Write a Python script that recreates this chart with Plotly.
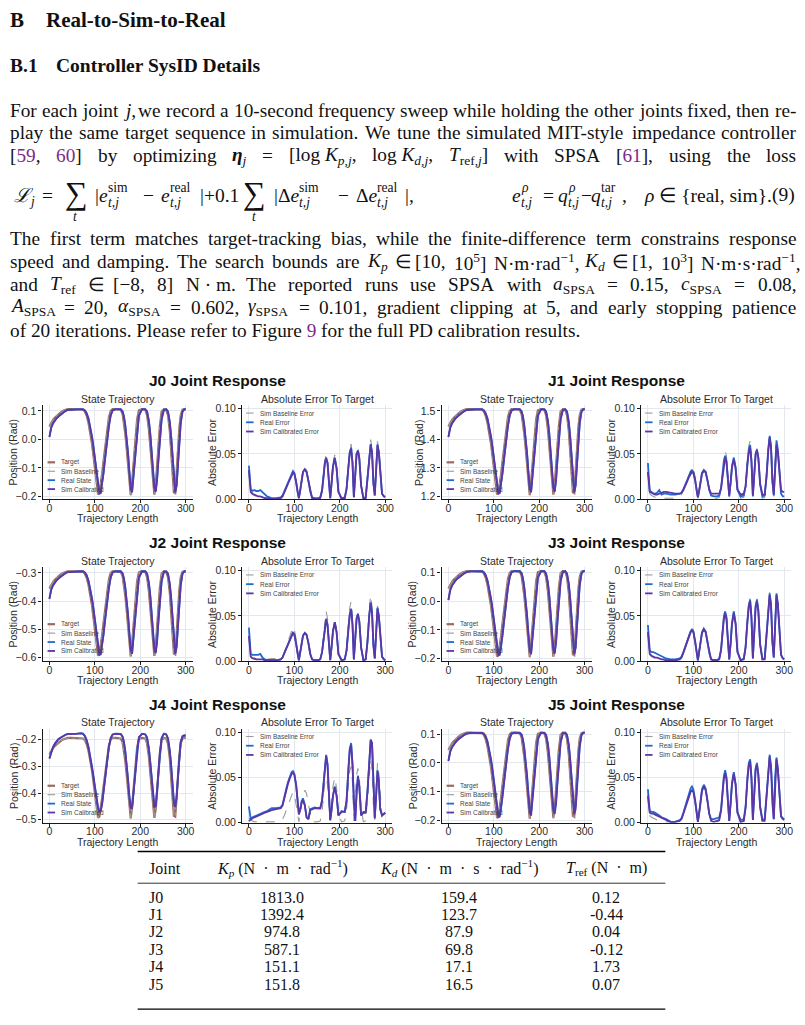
import re
import plotly.graph_objects as go

W, H = 805, 1025
SERIF = "Liberation Serif"
SANS = "Liberation Sans"
LINK = "#7E2A86"

# ---------------- data ----------------
t_steps = [0, 4, 8, 12, 16, 20, 25, 30, 35, 40, 50, 60, 70,
           74, 78, 82, 86, 90, 94, 97, 100, 104, 107, 110, 113, 116, 119, 123, 127, 131, 135, 139,
           145, 152, 157, 161, 164, 167, 170, 173, 176, 179, 182, 185, 189, 193, 197,
           204, 211, 215, 219, 222, 225, 228, 231, 234, 237, 240, 243, 247,
           252, 257, 261, 265, 268, 271, 274, 277, 280, 283, 286, 289, 293, 297, 300]

j0_target = [0.045,0.058,0.068,0.076,0.083,0.089,0.095,0.100,0.104,0.106,0.106,0.105,0.106,
 0.104,0.098,0.083,0.058,0.025,-0.018,-0.058,-0.100,-0.160,-0.192,-0.188,-0.160,-0.120,-0.078,-0.020,0.035,0.078,0.100,0.106,
 0.106,0.106,0.104,0.090,0.062,0.020,-0.030,-0.090,-0.155,-0.195,-0.150,-0.085,0.000,0.070,0.102,
 0.106,0.104,0.085,0.035,-0.020,-0.085,-0.150,-0.193,-0.160,-0.090,-0.020,0.045,0.098,
 0.106,0.104,0.085,0.030,-0.030,-0.115,-0.185,-0.188,-0.115,-0.030,0.040,0.085,0.104,0.106,0.106]
j0_baseline = list(j0_target)
j0_real = [0.010,0.042,0.057,0.067,0.075,0.081,0.088,0.094,0.099,0.103,0.105,0.105,0.106,
 0.106,0.102,0.092,0.073,0.045,0.008,-0.025,-0.062,-0.118,-0.160,-0.186,-0.185,-0.158,-0.118,-0.060,-0.002,0.048,0.085,0.102,
 0.106,0.106,0.106,0.099,0.082,0.050,0.008,-0.045,-0.110,-0.168,-0.182,-0.130,-0.050,0.030,0.085,
 0.106,0.106,0.098,0.066,0.022,-0.038,-0.105,-0.165,-0.180,-0.140,-0.070,0.005,0.072,
 0.104,0.106,0.098,0.062,0.012,-0.060,-0.140,-0.182,-0.160,-0.085,-0.005,0.058,0.098,0.106,0.106]
j0_calibrated = [0.008,0.040,0.056,0.066,0.074,0.080,0.087,0.094,0.099,0.103,0.105,0.105,0.105,
 0.105,0.101,0.091,0.072,0.044,0.006,-0.028,-0.066,-0.122,-0.165,-0.190,-0.188,-0.160,-0.120,-0.062,-0.004,0.046,0.084,0.101,
 0.105,0.105,0.105,0.098,0.080,0.048,0.005,-0.048,-0.114,-0.172,-0.186,-0.134,-0.053,0.027,0.083,
 0.105,0.105,0.097,0.064,0.019,-0.042,-0.110,-0.170,-0.184,-0.143,-0.072,0.002,0.070,
 0.103,0.105,0.097,0.060,0.009,-0.064,-0.145,-0.186,-0.163,-0.088,-0.008,0.055,0.097,0.105,0.105]

j1_target = [1.445,1.458,1.468,1.476,1.483,1.489,1.495,1.500,1.504,1.506,1.506,1.505,1.506,
 1.504,1.498,1.483,1.458,1.425,1.382,1.342,1.300,1.240,1.208,1.212,1.240,1.280,1.322,1.380,1.435,1.478,1.500,1.506,
 1.506,1.506,1.504,1.490,1.462,1.420,1.370,1.310,1.245,1.205,1.250,1.315,1.400,1.470,1.502,
 1.506,1.504,1.485,1.435,1.380,1.315,1.250,1.207,1.240,1.310,1.380,1.445,1.498,
 1.506,1.504,1.485,1.430,1.370,1.285,1.215,1.212,1.285,1.370,1.440,1.485,1.504,1.506,1.506]
j1_baseline = list(j1_target)
j1_real = [1.410,1.442,1.457,1.467,1.475,1.481,1.488,1.494,1.499,1.503,1.505,1.505,1.506,
 1.506,1.502,1.492,1.473,1.445,1.408,1.375,1.338,1.282,1.240,1.214,1.215,1.242,1.282,1.340,1.398,1.448,1.485,1.502,
 1.506,1.506,1.506,1.499,1.482,1.450,1.408,1.355,1.290,1.232,1.218,1.270,1.350,1.430,1.485,
 1.506,1.506,1.498,1.466,1.422,1.362,1.295,1.235,1.220,1.260,1.330,1.405,1.472,
 1.504,1.506,1.498,1.462,1.412,1.340,1.260,1.218,1.240,1.315,1.395,1.458,1.498,1.506,1.506]
j1_calibrated = [1.408,1.440,1.456,1.466,1.474,1.480,1.487,1.494,1.499,1.503,1.505,1.505,1.505,
 1.505,1.501,1.491,1.472,1.444,1.406,1.372,1.334,1.278,1.235,1.210,1.212,1.240,1.280,1.338,1.396,1.446,1.484,1.501,
 1.505,1.505,1.505,1.498,1.480,1.448,1.405,1.352,1.286,1.228,1.214,1.266,1.347,1.427,1.483,
 1.505,1.505,1.497,1.464,1.419,1.358,1.290,1.230,1.216,1.257,1.328,1.402,1.470,
 1.503,1.505,1.497,1.460,1.409,1.336,1.255,1.214,1.237,1.312,1.392,1.455,1.497,1.505,1.505]

j2_target = [-0.355,-0.342,-0.332,-0.324,-0.317,-0.311,-0.305,-0.300,-0.296,-0.294,-0.294,-0.295,-0.294,
 -0.296,-0.302,-0.317,-0.342,-0.375,-0.418,-0.458,-0.500,-0.560,-0.592,-0.588,-0.560,-0.520,-0.478,-0.420,-0.365,-0.322,-0.300,-0.294,
 -0.294,-0.294,-0.296,-0.310,-0.338,-0.380,-0.430,-0.490,-0.555,-0.595,-0.550,-0.485,-0.400,-0.330,-0.298,
 -0.294,-0.296,-0.315,-0.365,-0.420,-0.485,-0.550,-0.593,-0.560,-0.490,-0.420,-0.355,-0.302,
 -0.294,-0.296,-0.315,-0.370,-0.430,-0.515,-0.585,-0.588,-0.515,-0.430,-0.360,-0.315,-0.296,-0.294,-0.294]
j2_baseline = list(j2_target)
j2_real = [-0.390,-0.358,-0.343,-0.333,-0.325,-0.319,-0.312,-0.306,-0.301,-0.297,-0.295,-0.295,-0.294,
 -0.294,-0.298,-0.308,-0.327,-0.355,-0.392,-0.425,-0.462,-0.518,-0.560,-0.586,-0.585,-0.558,-0.518,-0.460,-0.402,-0.352,-0.315,-0.298,
 -0.294,-0.294,-0.294,-0.301,-0.318,-0.350,-0.392,-0.445,-0.510,-0.568,-0.582,-0.530,-0.450,-0.370,-0.315,
 -0.294,-0.294,-0.302,-0.334,-0.378,-0.438,-0.505,-0.565,-0.580,-0.540,-0.470,-0.395,-0.328,
 -0.296,-0.294,-0.302,-0.338,-0.388,-0.460,-0.540,-0.582,-0.560,-0.485,-0.405,-0.342,-0.302,-0.294,-0.294]
j2_calibrated = [-0.392,-0.360,-0.344,-0.334,-0.326,-0.320,-0.313,-0.306,-0.301,-0.297,-0.295,-0.295,-0.295,
 -0.295,-0.299,-0.309,-0.328,-0.356,-0.394,-0.428,-0.466,-0.522,-0.565,-0.590,-0.588,-0.560,-0.520,-0.462,-0.404,-0.354,-0.316,-0.299,
 -0.295,-0.295,-0.295,-0.302,-0.320,-0.352,-0.395,-0.448,-0.514,-0.572,-0.586,-0.534,-0.453,-0.373,-0.317,
 -0.295,-0.295,-0.303,-0.336,-0.381,-0.442,-0.510,-0.570,-0.584,-0.543,-0.472,-0.398,-0.330,
 -0.297,-0.295,-0.303,-0.340,-0.391,-0.464,-0.545,-0.586,-0.563,-0.488,-0.408,-0.345,-0.303,-0.295,-0.295]

j3_target = [0.045,0.058,0.068,0.076,0.083,0.089,0.095,0.100,0.104,0.106,0.106,0.105,0.106,
 0.104,0.098,0.083,0.058,0.025,-0.018,-0.058,-0.100,-0.160,-0.192,-0.188,-0.160,-0.120,-0.078,-0.020,0.035,0.078,0.100,0.106,
 0.106,0.106,0.104,0.090,0.062,0.020,-0.030,-0.090,-0.155,-0.195,-0.150,-0.085,0.000,0.070,0.102,
 0.106,0.104,0.085,0.035,-0.020,-0.085,-0.150,-0.193,-0.160,-0.090,-0.020,0.045,0.098,
 0.106,0.104,0.085,0.030,-0.030,-0.115,-0.185,-0.188,-0.115,-0.030,0.040,0.085,0.104,0.106,0.106]
j3_baseline = list(j3_target)
j3_real = [0.005,0.040,0.056,0.066,0.074,0.080,0.087,0.093,0.098,0.102,0.105,0.105,0.106,
 0.106,0.102,0.092,0.073,0.045,0.008,-0.025,-0.062,-0.118,-0.160,-0.184,-0.183,-0.158,-0.118,-0.060,-0.002,0.048,0.085,0.102,
 0.106,0.106,0.106,0.099,0.082,0.050,0.008,-0.045,-0.110,-0.166,-0.180,-0.130,-0.050,0.030,0.085,
 0.106,0.106,0.098,0.066,0.022,-0.038,-0.105,-0.163,-0.178,-0.140,-0.070,0.005,0.072,
 0.104,0.106,0.098,0.062,0.012,-0.060,-0.140,-0.180,-0.160,-0.085,-0.005,0.058,0.098,0.106,0.106]
j3_calibrated = [0.004,0.039,0.055,0.065,0.073,0.080,0.087,0.093,0.098,0.102,0.105,0.105,0.105,
 0.105,0.101,0.091,0.072,0.044,0.006,-0.028,-0.066,-0.122,-0.165,-0.189,-0.187,-0.160,-0.120,-0.062,-0.004,0.046,0.084,0.101,
 0.105,0.105,0.105,0.098,0.080,0.048,0.005,-0.048,-0.114,-0.171,-0.185,-0.134,-0.053,0.027,0.083,
 0.105,0.105,0.097,0.064,0.019,-0.042,-0.110,-0.169,-0.183,-0.143,-0.072,0.002,0.070,
 0.103,0.105,0.097,0.060,0.009,-0.064,-0.145,-0.185,-0.163,-0.088,-0.008,0.055,0.097,0.105,0.105]

j4_target = [-0.255,-0.242,-0.232,-0.224,-0.217,-0.211,-0.205,-0.200,-0.196,-0.194,-0.194,-0.195,-0.194,
 -0.196,-0.202,-0.217,-0.242,-0.275,-0.318,-0.358,-0.400,-0.460,-0.492,-0.488,-0.460,-0.420,-0.378,-0.320,-0.265,-0.222,-0.200,-0.194,
 -0.194,-0.194,-0.196,-0.210,-0.238,-0.280,-0.330,-0.390,-0.455,-0.495,-0.450,-0.385,-0.300,-0.230,-0.198,
 -0.194,-0.196,-0.215,-0.265,-0.320,-0.385,-0.450,-0.493,-0.460,-0.390,-0.320,-0.255,-0.202,
 -0.194,-0.196,-0.215,-0.270,-0.330,-0.415,-0.485,-0.488,-0.415,-0.330,-0.260,-0.215,-0.196,-0.194,-0.194]
j4_baseline = list(j4_target)
j4_real = [-0.272,-0.245,-0.228,-0.215,-0.205,-0.198,-0.192,-0.186,-0.182,-0.179,-0.179,-0.178,-0.176,
 -0.178,-0.186,-0.202,-0.228,-0.262,-0.302,-0.338,-0.375,-0.420,-0.452,-0.468,-0.465,-0.440,-0.400,-0.338,-0.278,-0.228,-0.195,-0.182,
 -0.178,-0.178,-0.179,-0.188,-0.208,-0.242,-0.288,-0.345,-0.410,-0.452,-0.455,-0.405,-0.322,-0.240,-0.192,
 -0.178,-0.180,-0.192,-0.232,-0.282,-0.345,-0.408,-0.448,-0.448,-0.400,-0.325,-0.252,-0.195,
 -0.178,-0.180,-0.195,-0.240,-0.295,-0.365,-0.430,-0.450,-0.415,-0.340,-0.260,-0.210,-0.188,-0.185,-0.186]
j4_calibrated = [-0.270,-0.244,-0.228,-0.216,-0.206,-0.199,-0.193,-0.187,-0.183,-0.180,-0.180,-0.179,-0.177,
 -0.179,-0.187,-0.203,-0.229,-0.264,-0.304,-0.340,-0.378,-0.424,-0.456,-0.471,-0.467,-0.441,-0.400,-0.337,-0.276,-0.226,-0.194,-0.181,
 -0.179,-0.179,-0.180,-0.189,-0.210,-0.245,-0.292,-0.350,-0.415,-0.456,-0.457,-0.405,-0.320,-0.238,-0.191,
 -0.179,-0.181,-0.194,-0.235,-0.286,-0.350,-0.413,-0.452,-0.450,-0.400,-0.323,-0.250,-0.194,
 -0.179,-0.181,-0.197,-0.243,-0.299,-0.370,-0.435,-0.453,-0.416,-0.339,-0.258,-0.208,-0.187,-0.184,-0.185]

j5_target = [0.045,0.058,0.068,0.076,0.083,0.089,0.095,0.100,0.104,0.106,0.106,0.105,0.106,
 0.104,0.098,0.083,0.058,0.025,-0.018,-0.058,-0.100,-0.160,-0.192,-0.188,-0.160,-0.120,-0.078,-0.020,0.035,0.078,0.100,0.106,
 0.106,0.106,0.104,0.090,0.062,0.020,-0.030,-0.090,-0.155,-0.195,-0.150,-0.085,0.000,0.070,0.102,
 0.106,0.104,0.085,0.035,-0.020,-0.085,-0.150,-0.193,-0.160,-0.090,-0.020,0.045,0.098,
 0.106,0.104,0.085,0.030,-0.030,-0.115,-0.185,-0.188,-0.115,-0.030,0.040,0.085,0.104,0.106,0.106]
j5_baseline = list(j5_target)
j5_real = [0.008,0.040,0.055,0.065,0.073,0.080,0.087,0.093,0.098,0.102,0.105,0.105,0.106,
 0.106,0.103,0.094,0.076,0.049,0.012,-0.020,-0.058,-0.112,-0.155,-0.184,-0.183,-0.156,-0.114,-0.055,0.003,0.052,0.088,0.103,
 0.106,0.106,0.106,0.100,0.084,0.054,0.012,-0.040,-0.104,-0.160,-0.175,-0.125,-0.045,0.035,0.088,
 0.106,0.106,0.099,0.068,0.026,-0.033,-0.099,-0.155,-0.168,-0.130,-0.062,0.010,0.076,
 0.104,0.106,0.099,0.065,0.016,-0.055,-0.132,-0.168,-0.150,-0.078,0.000,0.062,0.099,0.106,0.106]
j5_calibrated = [0.006,0.039,0.055,0.065,0.073,0.080,0.087,0.093,0.098,0.102,0.105,0.105,0.105,
 0.105,0.101,0.091,0.072,0.044,0.006,-0.028,-0.066,-0.122,-0.165,-0.190,-0.188,-0.160,-0.120,-0.062,-0.004,0.046,0.084,0.101,
 0.105,0.105,0.105,0.098,0.080,0.048,0.005,-0.048,-0.114,-0.172,-0.184,-0.134,-0.053,0.027,0.083,
 0.105,0.105,0.097,0.064,0.019,-0.042,-0.110,-0.168,-0.178,-0.143,-0.072,0.002,0.070,
 0.103,0.105,0.097,0.060,0.009,-0.064,-0.145,-0.178,-0.163,-0.088,-0.008,0.055,0.097,0.105,0.105]

j0_err_baseline = [0.030,0.007,0.005,0.004,0.003,0.003,0.002,0.002,0.001,0.001,0.000,0.000,0.001,
 0.003,0.007,0.012,0.018,0.023,0.028,0.031,0.030,0.021,0.010,0.001,0.011,0.024,0.032,0.035,0.032,0.021,0.009,0.001,
 0.000,0.000,0.001,0.010,0.025,0.042,0.049,0.043,0.022,0.001,0.020,0.039,0.049,0.036,0.009,
 0.000,0.001,0.012,0.038,0.055,0.061,0.043,0.002,0.030,0.053,0.057,0.048,0.016,
 0.001,0.001,0.023,0.053,0.066,0.056,0.020,0.004,0.043,0.064,0.055,0.032,0.007,0.003,0.002]
j0_err_real = [0.037,0.011,0.009,0.010,0.009,0.009,0.010,0.008,0.005,0.003,0.001,0.001,0.002,
 0.004,0.009,0.014,0.019,0.024,0.029,0.031,0.029,0.019,0.008,0.001,0.010,0.022,0.030,0.033,0.030,0.020,0.008,0.002,
 0.001,0.001,0.002,0.010,0.024,0.040,0.046,0.040,0.020,0.001,0.018,0.036,0.046,0.034,0.008,
 0.001,0.002,0.012,0.036,0.052,0.057,0.040,0.002,0.028,0.050,0.054,0.045,0.015,
 0.001,0.002,0.022,0.050,0.061,0.052,0.018,0.004,0.040,0.060,0.052,0.030,0.006,0.003,0.002]
j0_err_calibrated = [0.032,0.008,0.006,0.005,0.004,0.003,0.003,0.002,0.001,0.001,0.000,0.000,0.001,
 0.003,0.007,0.012,0.017,0.022,0.027,0.029,0.028,0.019,0.008,0.001,0.010,0.022,0.030,0.033,0.030,0.020,0.008,0.001,
 0.000,0.000,0.001,0.009,0.023,0.039,0.045,0.040,0.020,0.001,0.018,0.036,0.045,0.034,0.008,
 0.000,0.001,0.011,0.035,0.051,0.056,0.040,0.002,0.028,0.050,0.053,0.045,0.015,
 0.001,0.001,0.021,0.049,0.060,0.052,0.018,0.004,0.040,0.060,0.052,0.030,0.006,0.003,0.003]

j1_err_baseline = [0.028,0.006,0.004,0.003,0.002,0.002,0.002,0.001,0.001,0.001,0.001,0.001,0.002,
 0.005,0.010,0.016,0.022,0.028,0.034,0.036,0.034,0.024,0.012,0.001,0.011,0.023,0.030,0.033,0.031,0.021,0.009,0.002,
 0.001,0.001,0.002,0.012,0.028,0.046,0.054,0.047,0.024,0.002,0.019,0.038,0.047,0.036,0.010,
 0.001,0.002,0.015,0.042,0.059,0.064,0.045,0.002,0.029,0.051,0.056,0.047,0.016,
 0.001,0.002,0.026,0.058,0.073,0.060,0.021,0.003,0.042,0.062,0.053,0.030,0.006,0.003,0.003]
j1_err_real = [0.040,0.009,0.008,0.006,0.006,0.007,0.010,0.005,0.006,0.006,0.005,0.005,0.006,
 0.007,0.011,0.016,0.021,0.026,0.030,0.032,0.030,0.021,0.010,0.002,0.010,0.022,0.029,0.032,0.030,0.021,0.010,0.004,
 0.003,0.003,0.004,0.012,0.026,0.042,0.048,0.042,0.022,0.003,0.018,0.036,0.046,0.035,0.010,
 0.003,0.004,0.014,0.040,0.055,0.060,0.042,0.003,0.028,0.050,0.055,0.046,0.016,
 0.003,0.004,0.025,0.056,0.070,0.058,0.020,0.004,0.045,0.065,0.055,0.030,0.006,0.003,0.003]
j1_err_calibrated = [0.030,0.008,0.007,0.006,0.005,0.005,0.006,0.007,0.008,0.008,0.007,0.006,0.006,
 0.007,0.010,0.014,0.019,0.024,0.028,0.030,0.029,0.021,0.010,0.002,0.010,0.021,0.028,0.031,0.030,0.021,0.011,0.006,
 0.006,0.006,0.006,0.012,0.025,0.040,0.046,0.041,0.022,0.004,0.018,0.035,0.044,0.034,0.011,
 0.005,0.006,0.014,0.038,0.052,0.057,0.041,0.004,0.028,0.049,0.054,0.046,0.017,
 0.005,0.005,0.024,0.054,0.068,0.056,0.020,0.005,0.042,0.060,0.052,0.030,0.010,0.008,0.008]

j2_err_baseline = [0.026,0.005,0.003,0.002,0.002,0.002,0.002,0.002,0.002,0.002,0.003,0.003,0.002,
 0.004,0.010,0.016,0.022,0.029,0.035,0.038,0.035,0.024,0.011,0.001,0.011,0.022,0.029,0.032,0.030,0.021,0.009,0.002,
 0.001,0.001,0.002,0.012,0.028,0.046,0.055,0.047,0.023,0.001,0.017,0.034,0.044,0.033,0.008,
 0.001,0.002,0.014,0.041,0.059,0.066,0.046,0.002,0.027,0.048,0.053,0.045,0.015,
 0.001,0.002,0.025,0.058,0.073,0.060,0.020,0.003,0.041,0.061,0.052,0.029,0.005,0.002,0.001]
j2_err_real = [0.037,0.008,0.007,0.007,0.007,0.007,0.008,0.004,0.002,0.001,0.001,0.001,0.002,
 0.004,0.009,0.014,0.020,0.025,0.030,0.032,0.030,0.020,0.009,0.001,0.010,0.021,0.028,0.031,0.029,0.020,0.008,0.002,
 0.001,0.001,0.002,0.010,0.024,0.040,0.047,0.041,0.020,0.001,0.016,0.033,0.043,0.032,0.008,
 0.001,0.002,0.012,0.036,0.052,0.058,0.041,0.002,0.026,0.047,0.052,0.044,0.015,
 0.001,0.002,0.022,0.052,0.065,0.054,0.018,0.003,0.040,0.059,0.050,0.028,0.005,0.002,0.001]
j2_err_calibrated = [0.028,0.005,0.003,0.003,0.002,0.002,0.002,0.002,0.001,0.001,0.001,0.001,0.002,
 0.004,0.009,0.014,0.019,0.024,0.029,0.031,0.029,0.020,0.009,0.001,0.010,0.021,0.028,0.031,0.029,0.020,0.008,0.002,
 0.001,0.001,0.002,0.010,0.024,0.039,0.046,0.040,0.020,0.001,0.016,0.033,0.043,0.032,0.008,
 0.001,0.002,0.012,0.035,0.051,0.057,0.040,0.002,0.026,0.047,0.052,0.044,0.015,
 0.001,0.002,0.021,0.051,0.064,0.053,0.018,0.003,0.040,0.058,0.050,0.028,0.005,0.002,0.001]

j3_err_baseline = [0.030,0.007,0.005,0.004,0.003,0.003,0.002,0.002,0.001,0.001,0.001,0.001,0.002,
 0.004,0.010,0.016,0.023,0.030,0.035,0.038,0.035,0.023,0.010,0.001,0.011,0.024,0.032,0.036,0.033,0.022,0.009,0.002,
 0.001,0.001,0.002,0.013,0.031,0.050,0.058,0.050,0.025,0.002,0.020,0.042,0.055,0.042,0.011,
 0.001,0.002,0.016,0.045,0.063,0.070,0.049,0.003,0.034,0.061,0.069,0.057,0.019,
 0.002,0.002,0.028,0.062,0.076,0.063,0.022,0.004,0.050,0.075,0.064,0.036,0.007,0.003,0.002]
j3_err_real = [0.040,0.012,0.010,0.010,0.009,0.008,0.007,0.005,0.004,0.003,0.002,0.002,0.003,
 0.005,0.010,0.016,0.022,0.028,0.033,0.035,0.033,0.022,0.010,0.001,0.011,0.024,0.032,0.036,0.033,0.022,0.009,0.002,
 0.001,0.001,0.003,0.013,0.030,0.048,0.055,0.048,0.024,0.002,0.020,0.042,0.055,0.042,0.011,
 0.001,0.003,0.016,0.045,0.062,0.068,0.048,0.003,0.034,0.061,0.068,0.057,0.019,
 0.002,0.003,0.028,0.062,0.075,0.063,0.022,0.004,0.050,0.075,0.064,0.036,0.007,0.003,0.002]
j3_err_calibrated = [0.032,0.008,0.006,0.005,0.004,0.004,0.003,0.002,0.002,0.001,0.001,0.001,0.002,
 0.004,0.009,0.015,0.021,0.027,0.032,0.034,0.032,0.021,0.010,0.001,0.011,0.023,0.031,0.035,0.032,0.021,0.009,0.002,
 0.001,0.001,0.002,0.012,0.029,0.046,0.053,0.046,0.023,0.002,0.019,0.041,0.053,0.041,0.010,
 0.001,0.002,0.015,0.043,0.060,0.066,0.047,0.003,0.033,0.059,0.066,0.055,0.018,
 0.002,0.002,0.027,0.060,0.073,0.061,0.021,0.004,0.048,0.073,0.062,0.035,0.007,0.003,0.002]

j4_err_baseline = [0.005,0.003,0.002,0.001,0.001,0.001,0.001,0.001,0.001,0.001,0.001,0.001,0.002,
 0.004,0.008,0.013,0.018,0.024,0.030,0.034,0.031,0.020,0.009,0.001,0.010,0.021,0.030,0.036,0.032,0.020,0.008,0.001,
 0.001,0.001,0.002,0.012,0.028,0.044,0.050,0.043,0.022,0.002,0.020,0.040,0.050,0.038,0.010,
 0.001,0.002,0.015,0.042,0.058,0.062,0.045,0.002,0.030,0.053,0.060,0.050,0.016,
 0.001,0.002,0.026,0.058,0.070,0.058,0.020,0.003,0.045,0.066,0.055,0.030,0.006,0.003,0.002]
j4_err_real = [0.018,0.004,0.006,0.007,0.008,0.009,0.010,0.011,0.012,0.013,0.016,0.016,0.017,
 0.020,0.030,0.037,0.045,0.051,0.056,0.057,0.054,0.042,0.025,0.010,0.015,0.024,0.027,0.020,0.006,0.004,0.015,0.016,
 0.017,0.016,0.016,0.025,0.045,0.065,0.075,0.065,0.035,0.003,0.015,0.030,0.040,0.030,0.008,
 0.013,0.012,0.025,0.060,0.082,0.088,0.065,0.025,0.002,0.033,0.052,0.040,0.008,
 0.012,0.012,0.035,0.075,0.092,0.088,0.045,0.005,0.030,0.058,0.045,0.015,0.008,0.010,0.011]
j4_err_calibrated = [0.002,0.004,0.005,0.006,0.007,0.008,0.009,0.010,0.011,0.012,0.014,0.015,0.016,
 0.019,0.028,0.035,0.043,0.049,0.054,0.055,0.053,0.041,0.024,0.009,0.014,0.022,0.025,0.019,0.006,0.004,0.014,0.015,
 0.016,0.016,0.016,0.024,0.044,0.064,0.074,0.064,0.034,0.003,0.014,0.030,0.039,0.030,0.008,
 0.012,0.012,0.024,0.058,0.080,0.086,0.064,0.024,0.002,0.032,0.051,0.040,0.008,
 0.011,0.011,0.034,0.074,0.091,0.088,0.045,0.005,0.030,0.057,0.045,0.015,0.008,0.010,0.011]

j5_err_baseline = [0.028,0.008,0.006,0.005,0.004,0.003,0.003,0.002,0.002,0.001,0.001,0.001,0.002,
 0.004,0.010,0.017,0.024,0.030,0.036,0.038,0.035,0.024,0.011,0.001,0.012,0.026,0.036,0.041,0.037,0.025,0.010,0.002,
 0.001,0.001,0.002,0.014,0.032,0.050,0.057,0.049,0.025,0.002,0.022,0.043,0.055,0.043,0.012,
 0.001,0.002,0.017,0.049,0.065,0.070,0.050,0.003,0.034,0.060,0.066,0.054,0.018,
 0.002,0.002,0.029,0.062,0.075,0.062,0.022,0.004,0.050,0.072,0.060,0.033,0.007,0.004,0.003]
j5_err_real = [0.037,0.013,0.012,0.012,0.011,0.010,0.008,0.006,0.005,0.004,0.001,0.001,0.003,
 0.005,0.011,0.018,0.025,0.032,0.038,0.040,0.037,0.025,0.011,0.001,0.012,0.027,0.037,0.042,0.038,0.025,0.010,0.004,
 0.004,0.005,0.006,0.015,0.033,0.051,0.058,0.050,0.025,0.002,0.022,0.044,0.056,0.043,0.012,
 0.003,0.004,0.018,0.050,0.066,0.070,0.050,0.003,0.034,0.060,0.066,0.054,0.018,
 0.003,0.004,0.030,0.062,0.075,0.062,0.022,0.004,0.050,0.072,0.060,0.033,0.007,0.005,0.004]
j5_err_calibrated = [0.030,0.011,0.010,0.010,0.009,0.008,0.006,0.005,0.004,0.003,0.001,0.001,0.002,
 0.004,0.010,0.016,0.023,0.029,0.034,0.036,0.034,0.023,0.010,0.001,0.011,0.025,0.035,0.040,0.036,0.024,0.010,0.002,
 0.001,0.002,0.003,0.013,0.031,0.048,0.055,0.048,0.024,0.002,0.021,0.042,0.054,0.042,0.011,
 0.001,0.002,0.016,0.047,0.063,0.068,0.048,0.003,0.032,0.058,0.064,0.053,0.017,
 0.002,0.002,0.028,0.060,0.073,0.061,0.021,0.004,0.048,0.070,0.059,0.032,0.007,0.004,0.003]

joint_names = ["J0", "J1", "J2", "J3", "J4", "J5"]
state_ranges = [[-0.209, 0.12], [1.191, 1.52], [-0.612, -0.279],
                [-0.209, 0.12], [-0.511, -0.159], [-0.209, 0.12]]
state_ticks = [[-0.2, -0.1, 0.0, 0.1], [1.2, 1.3, 1.4, 1.5], [-0.6, -0.5, -0.4, -0.3],
               [-0.2, -0.1, 0.0, 0.1], [-0.5, -0.4, -0.3, -0.2], [-0.2, -0.1, 0.0, 0.1]]
error_ticks = [0.0, 0.05, 0.10]
x_ticks = [0, 100, 200, 300]

table_joint = ["J0", "J1", "J2", "J3", "J4", "J5"]
table_kp = [1813.0, 1392.4, 974.8, 587.1, 151.1, 151.8]
table_kd = [159.4, 123.7, 87.9, 69.8, 17.1, 16.5]
table_tref = [0.12, -0.44, 0.04, -0.12, 1.73, 0.07]

state_sets = [
    (j0_target, j0_baseline, j0_real, j0_calibrated),
    (j1_target, j1_baseline, j1_real, j1_calibrated),
    (j2_target, j2_baseline, j2_real, j2_calibrated),
    (j3_target, j3_baseline, j3_real, j3_calibrated),
    (j4_target, j4_baseline, j4_real, j4_calibrated),
    (j5_target, j5_baseline, j5_real, j5_calibrated),
]
error_sets = [
    (j0_err_baseline, j0_err_real, j0_err_calibrated),
    (j1_err_baseline, j1_err_real, j1_err_calibrated),
    (j2_err_baseline, j2_err_real, j2_err_calibrated),
    (j3_err_baseline, j3_err_real, j3_err_calibrated),
    (j4_err_baseline, j4_err_real, j4_err_calibrated),
    (j5_err_baseline, j5_err_real, j5_err_calibrated),
]

# ---------------- styling ----------------
C_TARGET = "#9A6B5C"
C_BASE = "#9A9A9A"
C_REAL = "#1F6AD0"
C_CALIB = "#5B36A6"
GRID = "#E3E7EE"
AXC = "#1a1a1a"
TXT = "#2b2b2b"

state_styles = [("Target", dict(color=C_TARGET, width=2.2)),
                ("Sim Baseline", dict(color=C_BASE, width=1.1, dash="dashdot")),
                ("Real State", dict(color=C_REAL, width=1.8)),
                ("Sim Calibrated", dict(color=C_CALIB, width=1.8))]
error_styles = [("Sim Baseline Error", dict(color=C_BASE, width=1.1, dash="dash")),
                ("Real Error", dict(color=C_REAL, width=1.8)),
                ("Sim Calibrated Error", dict(color=C_CALIB, width=1.8))]

COL_L = [42.7, 242.7, 442.7, 642.7]
PW = 150.3
ROW_T = [405.7, 569.0, 732.0]
ROW_B = [500.5, 664.0, 827.0]

# Times-compatible advance widths (per 1000 em) used to justify the body text
_W_R = {' ': 250, '(': 333, ')': 333, '+': 564, ',': 250, '-': 333, '.': 250, ':': 278, ';': 278,
        '=': 564, '[': 333, ']': 333, '{': 480, '}': 480, '|': 200, "'": 333,
        'η': 500, 'α': 530, 'γ': 440, 'ρ': 500, 'Δ': 612, '∈': 667, '−': 564, '·': 250,
        'ℒ': 700, '∑': 713, '\u00a0': 250, '\u2009': 200}
_W_R.update({c: 500 for c in "0123456789"})
_W_R.update(dict(A=722, B=667, C=667, D=722, E=611, F=556, G=722, H=722, I=333, J=389, K=722,
                 L=611, M=889, N=722, O=722, P=556, Q=722, R=667, S=556, T=611, U=722, V=722,
                 W=944, X=722, Y=722, Z=611))
_W_R.update(dict(a=444, b=500, c=444, d=500, e=444, f=333, g=500, h=500, i=278, j=278, k=500,
                 l=278, m=778, n=500, o=500, p=500, q=500, r=333, s=389, t=278, u=500, v=500,
                 w=722, x=500, y=500, z=444))
_W_I = dict(_W_R)
_W_I.update(dict(a=500, f=278, k=444, m=722, r=389, v=444, w=667, x=444, y=444, z=389,
                 A=611, K=667, T=556))


def html_width(s, size):
    it = bd = sc = 0
    tot = 0.0
    for tok in re.findall(r"<[^>]+>|.", s):
        if tok.startswith("<") and len(tok) > 1:
            inner = tok.strip("<>/ ")
            name = inner.split()[0].lower() if inner else ""
            d = -1 if tok.startswith("</") else 1
            if name == "i":
                it += d
            elif name == "b":
                bd += d
            elif name in ("sub", "sup"):
                sc += d
            continue
        w = (_W_I if it > 0 else _W_R).get(tok, 500)
        if bd > 0:
            w *= 1.05
        if sc > 0:
            w *= 0.7
        tot += w
    return tot * size / 1000.0


def X(p):
    return p / W


def Y(p):
    return 1 - p / H


annotations = []
shapes = []


def text(x, y, s, size, family=SERIF, anchor="left", color="#111", angle=0):
    annotations.append(dict(x=X(x), y=Y(y), xref="paper", yref="paper", text=s,
                            showarrow=False, xanchor=anchor, yanchor="middle",
                            textangle=angle, borderpad=0,
                            font=dict(family=family, size=size, color=color)))


def justify(y, s, size, x0=9.0, x1=797.0):
    words = re.split(r" (?![^<]*>)", s)
    ws = [html_width(w, size) for w in words]
    gap = (x1 - x0 - sum(ws)) / (len(words) - 1)
    x = x0
    for w, wd in zip(words, ws):
        text(x, y, w, size)
        x += wd + gap


def hline(x0, x1, y, width, color="#000", dash="solid"):
    shapes.append(dict(type="line", xref="paper", yref="paper", x0=X(x0), x1=X(x1),
                       y0=Y(y), y1=Y(y), line=dict(color=color, width=width, dash=dash)))


fig = go.Figure()
layout_axes = {}
AX = dict(showgrid=True, gridcolor=GRID, gridwidth=1, zeroline=False, showline=True,
          linecolor=AXC, linewidth=1.3, ticks="outside", ticklen=3, tickwidth=1,
          tickcolor=AXC, tickfont=dict(family=SANS, size=10.5, color=TXT), fixedrange=True)


def add_axes(k, left, top, bottom, yr, yt, yfmt):
    xn = "xaxis" if k == 1 else f"xaxis{k}"
    yn = "yaxis" if k == 1 else f"yaxis{k}"
    xr = "x" if k == 1 else f"x{k}"
    yrf = "y" if k == 1 else f"y{k}"
    layout_axes[xn] = dict(domain=[X(left), X(left + PW)], anchor=yrf, range=[-15, 315],
                           tickvals=x_ticks, ticklabelstandoff=-4, **AX)
    layout_axes[yn] = dict(domain=[Y(bottom), Y(top)], anchor=xr, range=yr,
                           tickvals=yt, tickformat=yfmt, **AX)
    return xr, yrf


state_ytitle_x = [13.5, 420.0, 13.5, 413.5, 13.5, 413.5]
error_ytitle_x = [212.5, 612.5, 212.5, 612.5, 212.5, 612.5]

for j in range(6):
    row = j // 2
    cs = 2 * (j % 2)
    ce = cs + 1
    top, bot = ROW_T[row], ROW_B[row]
    xr, yr = add_axes(2 * j + 1, COL_L[cs], top, bot, state_ranges[j], state_ticks[j], ".1f")
    for (name, st), ys in zip(state_styles, state_sets[j]):
        fig.add_trace(go.Scatter(x=t_steps, y=ys, mode="lines", name=name, line=st,
                                 xaxis=xr, yaxis=yr, hoverinfo="skip", showlegend=False))
    xr, yr = add_axes(2 * j + 2, COL_L[ce], top, bot, [0, 0.104], error_ticks, ".2f")
    for (name, st), ys in zip(error_styles, error_sets[j]):
        fig.add_trace(go.Scatter(x=t_steps, y=ys, mode="lines", name=name, line=st,
                                 xaxis=xr, yaxis=yr, hoverinfo="skip", showlegend=False))

    mid_x = (COL_L[cs] + COL_L[ce] + PW) / 2
    text(mid_x, top - 24.5, f"<b>{joint_names[j]} Joint Response</b>", 15.5, SANS, "center", "#111")
    text(COL_L[cs] + PW / 2, top - 6.5, "State Trajectory", 10.5, SANS, "center", TXT)
    text(COL_L[ce] + PW / 2, top - 6.5, "Absolute Error To Target", 10.5, SANS, "center", TXT)
    text(COL_L[cs] + PW / 2, bot + 19.2, "Trajectory Length", 10.5, SANS, "center", TXT)
    text(COL_L[ce] + PW / 2, bot + 19.2, "Trajectory Length", 10.5, SANS, "center", TXT)
    text(state_ytitle_x[j], (top + bot) / 2, "Position (Rad)", 10.5, SANS, "center", TXT, -90)
    text(error_ytitle_x[j], (top + bot) / 2, "Absolute Error", 10.5, SANS, "center", TXT, -90)

    for i, (name, st) in enumerate(state_styles):
        yy = top + [57.7, 66.7, 75.7, 84.7][i]
        hline(COL_L[cs] + 5, COL_L[cs] + 12.5, yy, st["width"], st["color"], st.get("dash", "solid"))
        text(COL_L[cs] + 17.3, yy, name, 6.5, SANS, "left", "#444")
    for i, (name, st) in enumerate(error_styles):
        yy = top + [8.0, 17.3, 26.6][i]
        hline(COL_L[ce] + 4, COL_L[ce] + 11.5, yy, st["width"], st["color"], st.get("dash", "solid"))
        text(COL_L[ce] + 17.3, yy, name, 6.5, SANS, "left", "#444")

# ---------------- page text ----------------
L = lambda s: f"<span style='color:{LINK}'>{s}</span>"
NB = "\u00a0"

text(9, 17, "<b>B</b>", 21)
text(45, 17, "<b>Real-to-Sim-to-Real</b>", 21)
text(9, 63, "<b>B.1</b>", 19.5)
text(55, 63, "<b>Controller SysID Details</b>", 19.5)

BODY = 19.3
Kp = "<i>K</i><sub><i>p</i></sub>"
Kd = "<i>K</i><sub><i>d</i></sub>"
SP = "<sub>SPSA</sub>"
justified = [
    (108, "For each joint <i>j</i>, we record a 10-second frequency sweep while holding the other joints fixed, then re-"),
    (131, "play the same target sequence in simulation. We tune the simulated MIT-style impedance controller"),
    (154, f"[{L('59')}, {L('60')}] by optimizing <b><i>η</i></b><sub><i>j</i></sub> = [log{NB}<i>K</i><sub><i>p,j</i></sub>, log{NB}<i>K</i><sub><i>d,j</i></sub>, <i>T</i><sub>ref,<i>j</i></sub>] with SPSA [{L('61')}], using the loss"),
    (238, "The first term matches target-tracking bias, while the finite-difference term constrains response"),
    (261, f"speed and damping. The search bounds are {Kp} ∈ [10, 10<sup>5</sup>] N·m·rad<sup>−1</sup>, {Kd} ∈ [1, 10<sup>3</sup>] N·m·s·rad<sup>−1</sup>,"),
    (284, f"and <i>T</i><sub>ref</sub> ∈ [−8, 8] N{NB}·{NB}m. The reported runs use SPSA with <i>a</i>{SP} = 0.15, <i>c</i>{SP} = 0.08,"),
    (307, f"<i>A</i>{SP} = 20, <i>α</i>{SP} = 0.602, <i>γ</i>{SP} = 0.101, gradient clipping at 5, and early stopping patience"),
]
for yy, s in justified:
    justify(yy, s, BODY)
text(9, 330, f"of 20 iterations. Please refer to Figure {L('9')} for the full PD calibration results.", BODY)

# equation (9)
EY = 194
EQ = 19.5
SS = 13.6
SUP_Y, SUB_Y = EY - 8, EY + 7.5


def base(x, s, size=EQ):
    text(x, EY, s, size)


def stack(x, sup, sub):
    text(x, SUP_Y, sup, SS)
    text(x, SUB_Y, sub, SS)


base(13, "<i>ℒ</i>")
text(28, EY + 6, "<i>j</i>", SS)
base(41, "=")
text(64, EY - 2, "∑", 32)
text(76, EY + 21, "<i>t</i>", SS, anchor="center")
base(94, "|<i>e</i>")
stack(107, "sim", "<i>t,j</i>")
base(142, "−")
base(160, "<i>e</i>")
stack(169.5, "real", "<i>t,j</i>")
base(199, "|+0.1")
text(243, EY - 2, "∑", 32)
text(255, EY + 21, "<i>t</i>", SS, anchor="center")
base(274, "|Δ<i>e</i>")
stack(299, "sim", "<i>t,j</i>")
base(338, "−")
base(356, "Δ<i>e</i>")
stack(376.5, "real", "<i>t,j</i>")
base(405, "|,")

base(512, "<i>e</i>")
stack(521, "<i>ρ</i>", "<i>t,j</i>")
base(543, "=")
base(558, "<i>q</i>")
stack(568, "<i>ρ</i>", "<i>t,j</i>")
base(581, "−")
base(591, "<i>q</i>")
stack(601, "tar", "<i>t,j</i>")
base(623, ",")
text(645, EY, "<i>ρ</i> ∈ {real, sim}.", EQ)
text(798, EY, "(9)", EQ, anchor="right")

# ---------------- table ----------------
TB = 16
DOT = f"{NB}{NB}·{NB}{NB}"
hline(138, 667, 856, 1.4)
hline(138, 667, 888, 0.8)
hline(138, 667, 1015, 1.4)
text(148, 873, "Joint", TB)
text(283, 873, f"<i>K</i><sub><i>p</i></sub> (N{DOT}m{DOT}rad<sup>−1</sup>)", TB, anchor="center")
text(460, 873, f"<i>K</i><sub><i>d</i></sub> (N{DOT}m{DOT}s{DOT}rad<sup>−1</sup>)", TB, anchor="center")
text(608, 873, f"<i>T</i><sub>ref</sub> (N{DOT}m)", TB, anchor="center")
for i in range(len(table_joint)):
    yy = 902 + 17.6 * i
    text(148, yy, table_joint[i], TB)
    text(283, yy, f"{table_kp[i]:.1f}", TB, anchor="center")
    text(460, yy, f"{table_kd[i]:.1f}", TB, anchor="center")
    text(608, yy, f"{table_tref[i]:.2f}", TB, anchor="center")

fig.update_layout(width=W, height=H, margin=dict(l=0, r=0, t=0, b=0),
                  paper_bgcolor="white", plot_bgcolor="white", showlegend=False,
                  annotations=annotations, shapes=shapes, **layout_axes)

fig.write_html("out.html")
